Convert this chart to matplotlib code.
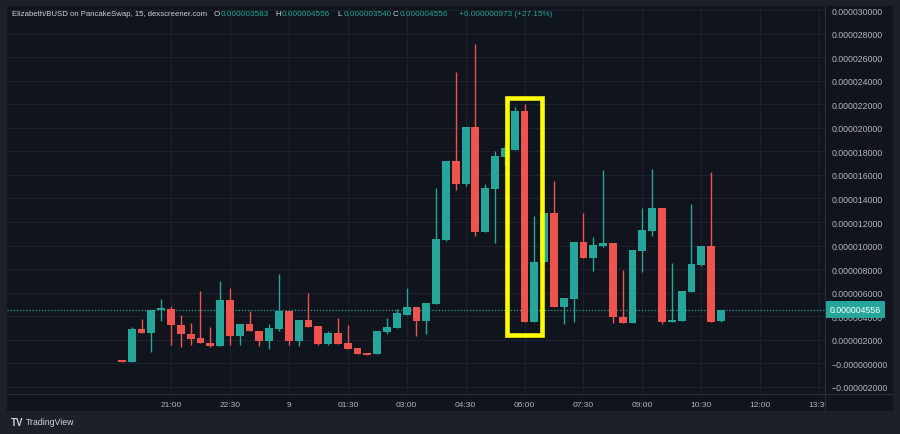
import numpy as np
import matplotlib.pyplot as plt
from matplotlib.patches import Rectangle
from matplotlib.transforms import Bbox, TransformedBbox

# 15 min candles Elizabeth/BUSD, 19:45 -> 11:00, prices in units of 1e-6
opens = [0.25, 0.10, 2.92, 2.55, 4.53, 4.62, 3.28, 2.49, 2.13, 1.70,
         1.45, 5.38, 2.35, 3.34, 2.78, 1.88, 2.92, 4.42, 1.93, 3.68,
         3.20, 1.65, 2.58, 1.73, 1.31, 0.88, 0.80, 2.64, 3.01, 4.13,
         4.81, 3.62, 5.04, 10.48, 17.16, 15.23, 20.09, 11.13, 14.80, 17.49,
         18.12, 21.40, 3.54, 8.58, 12.74, 4.76, 5.47, 10.28, 8.92, 9.99,
         10.22, 3.91, 3.40, 9.57, 11.27, 13.19, 3.49, 3.62, 6.09, 8.35,
         9.94, 3.583]
highs = [0.25, 3.12, 3.77, 4.53, 5.47, 4.90, 4.13, 3.40, 6.12, 3.12,
         7.02, 6.40, 3.34, 4.42, 2.78, 3.34, 7.60, 4.42, 3.68, 5.95,
         3.20, 2.73, 3.83, 3.28, 1.31, 0.88, 2.78, 3.83, 4.62, 6.38,
         4.81, 5.13, 14.86, 17.16, 24.71, 20.09, 27.11, 15.23, 18.00, 18.54,
         21.79, 22.02, 12.54, 12.77, 15.51, 5.55, 10.28, 12.77, 10.70, 16.42,
         10.22, 7.93, 9.63, 13.17, 16.50, 13.19, 8.52, 6.17, 13.53, 9.94,
         16.22, 4.556]
lows = [0.10, 0.10, 2.55, 0.99, 3.57, 1.58, 1.41, 1.58, 1.70, 1.41,
        1.45, 1.58, 1.58, 2.78, 1.50, 1.22, 2.78, 1.58, 1.50, 3.12,
        1.58, 1.58, 1.65, 1.22, 0.80, 0.74, 0.80, 2.49, 3.01, 4.13,
        2.35, 2.49, 5.04, 10.42, 14.74, 15.08, 10.84, 11.13, 10.19, 16.78,
        18.12, 3.54, 3.54, 8.58, 4.76, 3.34, 3.54, 8.92, 7.87, 9.90,
        3.40, 3.40, 3.40, 7.73, 10.84, 3.34, 3.49, 3.62, 6.09, 8.24,
        3.54, 3.540]
closes = [0.10, 2.92, 2.55, 4.53, 4.70, 3.28, 2.49, 2.07, 1.70, 1.48,
          5.38, 2.35, 3.34, 2.78, 1.88, 3.01, 4.42, 1.93, 3.68, 3.12,
          1.65, 2.58, 1.65, 1.22, 0.80, 0.74, 2.78, 3.12, 4.28, 4.81,
          3.62, 5.13, 10.56, 17.16, 15.23, 20.09, 11.18, 14.89, 17.63, 18.26,
          21.40, 3.54, 8.63, 12.77, 4.76, 5.55, 10.28, 8.92, 10.05, 10.22,
          3.91, 3.40, 9.63, 11.33, 13.19, 3.49, 3.68, 6.17, 8.44, 9.94,
          3.54, 4.556]

time_ticks = [5, 11, 17, 23, 29, 35, 41, 47, 53, 59, 65, 71]
time_labels = ['21:00', '22:30', '9', '01:30', '03:00', '04:30', '06:00',
               '07:30', '09:00', '10:30', '12:00', '13:30']
price_ticks = [30, 28, 26, 24, 22, 20, 18, 16, 14, 12, 10, 8, 6, 4, 2, 0, -2]
price_labels = ['0.000030000', '0.000028000', '0.000026000', '0.000024000',
                '0.000022000', '0.000020000', '0.000018000', '0.000016000',
                '0.000014000', '0.000012000', '0.000010000', '0.000008000',
                '0.000006000', '0.000004000', '0.000002000',
                '\u22120.000000000', '\u22120.000002000']
last_price = 4.556
last_label = '0.000004556'

# highlighted candles (yellow box)
box_x0, box_x1 = 39.18, 42.79
box_lo, box_hi = 2.45, 22.51

up = '#26a69a'
down = '#ef5350'
bg = '#10141d'
frame = '#1c2029'
grid = '#1d212c'
txt = '#b2b5be'
font = 'Liberation Sans'

fig = plt.figure(figsize=(9, 4.35), dpi=100, facecolor=frame)
W, H = 900, 435

def fx(px):
    return px / W

def fy(py):
    return 1 - py / H

# dark panel behind chart + both scales
fig.patches.append(Rectangle((fx(7), fy(412)), fx(886), 405 / H,
                             transform=fig.transFigure, fc=bg, ec='none', zorder=-10))

ax = fig.add_axes([fx(7), fy(395), fx(818), 388 / H])
ax.set_facecolor(bg)

x = np.arange(len(opens))
o = np.array(opens)
c = np.array(closes)
colors = [up if cc >= oo else down for oo, cc in zip(o, c)]
ax.vlines(x, lows, highs, colors=colors, lw=1.0, zorder=3)
body = np.maximum(np.abs(c - o), 0.09)
ax.bar(x, body, bottom=np.minimum(o, c), width=0.8, color=colors, zorder=4,
       linewidth=0)

ax.axhline(last_price, color=up, lw=0.9, ls=(0, (1, 1.5)), zorder=2)

ax.add_patch(Rectangle((box_x0, box_lo), box_x1 - box_x0, box_hi - box_lo,
                       fill=False, ec='#ffff00', lw=3.3, zorder=6))

ax.set_xlim(-11.7, 71.6)
ax.set_ylim(-2.6, 30.34)

ax.yaxis.tick_right()
ax.set_yticks(price_ticks)
ax.set_yticklabels(price_labels, fontsize=6.3, color=txt, family=font)
ax.set_xticks(time_ticks)
ax.set_xticklabels(time_labels, fontsize=6.0, color=txt, family=font)
ax.tick_params(axis='y', length=0, pad=4.5)
ax.tick_params(axis='x', length=0, pad=5)
ax.grid(True, color=grid, lw=0.8, zorder=0)

for s in ['top', 'left']:
    ax.spines[s].set_visible(False)
ax.spines['right'].set_color('#2a2e39')
ax.spines['bottom'].set_color('#2a2e39')
ax.spines['right'].set_linewidth(0.8)
ax.spines['bottom'].set_linewidth(0.8)

# separators extending into the scale areas
fig.add_artist(plt.Line2D([fx(825), fx(825)], [fy(412), fy(395)],
                          transform=fig.transFigure, color='#2a2e39', lw=0.8))
fig.add_artist(plt.Line2D([fx(825), fx(893)], [fy(395), fy(395)],
                          transform=fig.transFigure, color='#2a2e39', lw=0.8))

# the last time label is cut by the price scale
clip = TransformedBbox(Bbox.from_extents(0, 0, 825 / W, 1), fig.transFigure)
lab = ax.get_xticklabels()[-1]
lab.set_clip_box(clip)
lab.set_clip_on(True)

# last price tag
ax.annotate(last_label, xy=(1, last_price), xycoords=('axes fraction', 'data'),
            xytext=(3.3, 0), textcoords='offset points', ha='left', va='center',
            fontsize=6.3, color='white', family=font, zorder=10,
            bbox=dict(boxstyle='square,pad=0.45', fc=up, ec='none'),
            annotation_clip=False)

# header legend
hy = fy(15)
fig.text(fx(12), hy, 'Elizabeth/BUSD on PancakeSwap, 15, dexscreener.com',
         fontsize=5.6, color='#d1d4dc', family=font, va='center')
for letter, value, px in [('O', '0.000003583', 214), ('H', '0.000004556', 275),
                          ('L', '0.000003540', 337), ('C', '0.000004556', 393)]:
    fig.text(fx(px), hy, letter, fontsize=5.9, color='#d1d4dc', family=font, va='center')
    fig.text(fx(px + 6.5), hy, value, fontsize=5.9, color=up, family=font, va='center')
fig.text(fx(459), hy, '+0.000000973 (+27.15%)', fontsize=5.9, color=up,
         family=font, va='center')

# footer
fig.text(fx(11), fy(423), 'TV', fontsize=7, color='#d1d4dc', family=font,
         weight='bold', va='center')
fig.text(fx(26), fy(423), 'TradingView', fontsize=6.3, color='#d1d4dc',
         family=font, va='center')

fig.savefig('out.png', dpi=100, facecolor=frame)
